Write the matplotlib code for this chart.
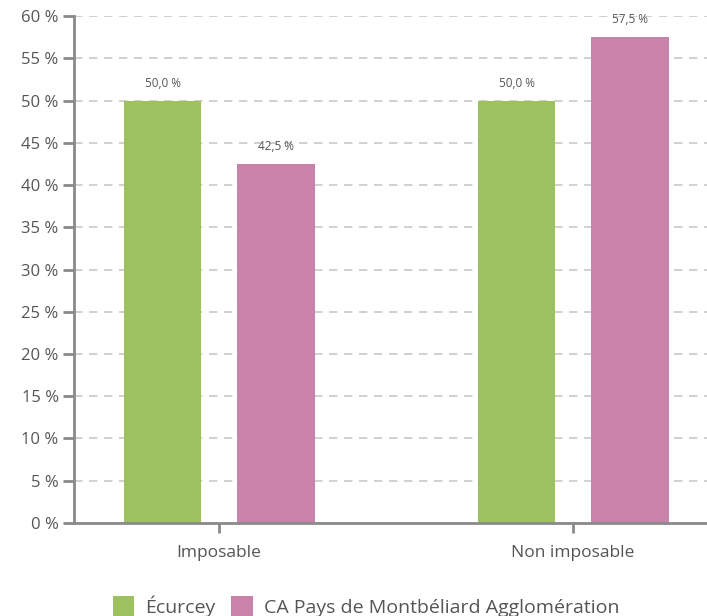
import matplotlib.pyplot as plt
import numpy as np

categories = ["Imposable", "Non imposable"]
series_names = ["Écurcey", "CA Pays de Montbéliard Agglomération"]
ecurcey = [50.0, 50.0]
capma = [42.5, 57.5]
y_ticks = [0, 5, 10, 15, 20, 25, 30, 35, 40, 45, 50, 55, 60]

GREEN = "#9dc15e"
PINK = "#c982aa"
TEXT = "#555555"
AXIS = "#8a8a8a"

plt.rcParams['font.family'] = ['Open Sans', 'DejaVu Sans']

fig = plt.figure(figsize=(7.07, 6.16), dpi=100)
ax = fig.add_axes([0.1047, 0.151, 0.8953, 0.823])

x = np.arange(len(categories))
w = 0.22
off = 0.16
b1 = ax.bar(x - off, ecurcey, w, color=GREEN, label=series_names[0], zorder=3)
b2 = ax.bar(x + off, capma, w, color=PINK, label=series_names[1], zorder=3)

def fmt(v):
    return f"{v:.1f}".replace(".", ",") + " %"

for bars, vals in [(b1, ecurcey), (b2, capma)]:
    for rect, v in zip(bars, vals):
        ax.text(rect.get_x() + rect.get_width() / 2, v + 1.3, fmt(v),
                ha="center", va="bottom", fontsize=8.5, color=TEXT)

ax.set_xlim(-0.41, 1.378)
ax.set_ylim(0, 60)
ax.set_yticks(y_ticks)
ax.set_yticklabels([f"{t} %" for t in y_ticks])
ax.set_xticks(x)
ax.set_xticklabels(categories)

ax.yaxis.grid(True, linestyle=(0, (5, 4)), color="#c8c8c8", linewidth=1.2, zorder=0)
for s in ["top", "right"]:
    ax.spines[s].set_visible(False)
ax.spines["left"].set_color(AXIS)
ax.spines["left"].set_linewidth(2)
ax.spines["bottom"].set_color(AXIS)
ax.spines["bottom"].set_linewidth(2)
ax.spines["bottom"].set_zorder(4)
ax.tick_params(axis="y", colors=AXIS, labelcolor=TEXT, labelsize=12, length=8, width=2, pad=3)
ax.tick_params(axis="x", colors=AXIS, labelcolor=TEXT, labelsize=12.5, length=7, width=2, pad=9)

leg = fig.legend(loc="lower center", bbox_to_anchor=(0.518, -0.03), ncol=2, frameon=False,
                 fontsize=14, handlelength=1.1, handleheight=1.2, handletextpad=0.6,
                 columnspacing=0.8, labelcolor=TEXT)

fig.savefig("out.png", dpi=100)
